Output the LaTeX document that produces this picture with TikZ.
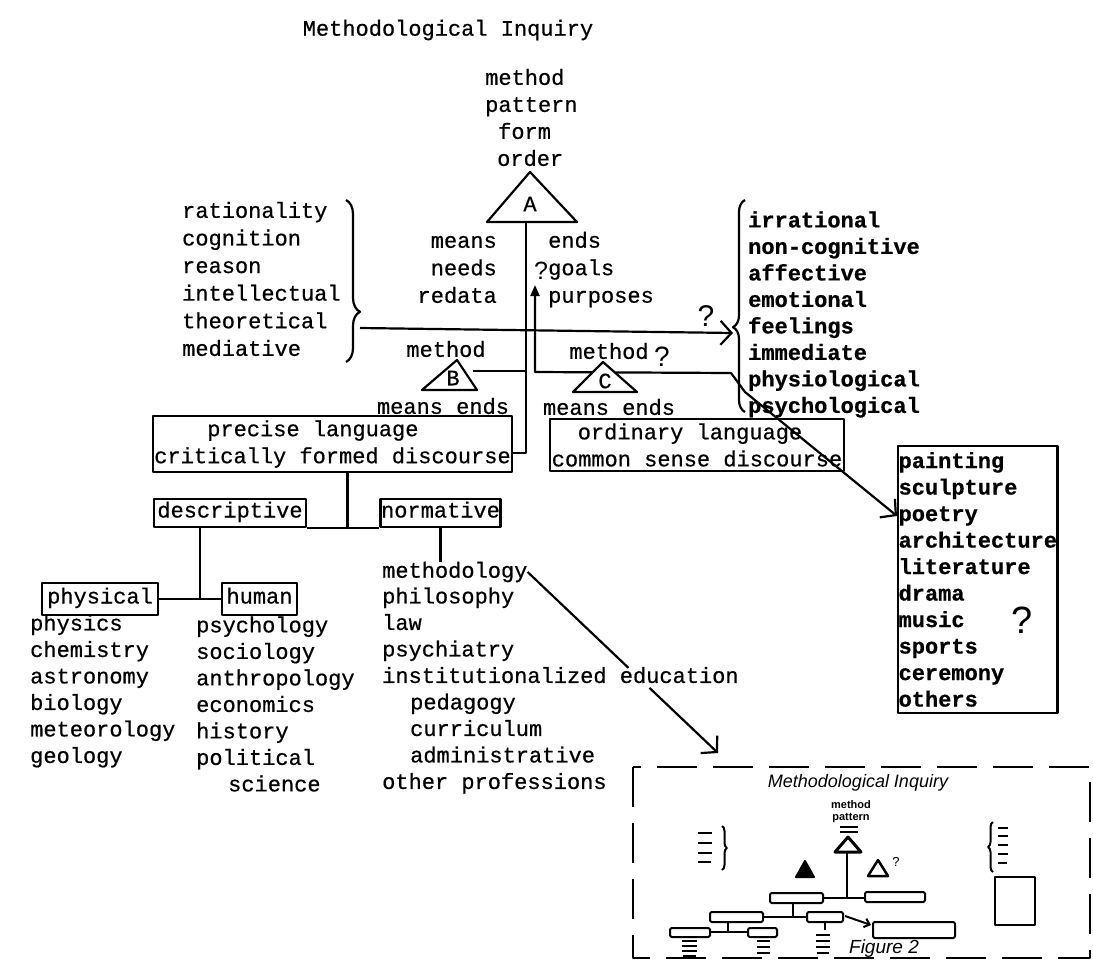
\documentclass[tikz,border=0pt]{standalone}
\usepackage{fontspec}
\setmonofont[FakeBold=0.6]{Liberation Mono}
\setsansfont{Liberation Sans}
\usetikzlibrary{calc, shapes, arrows.meta, decorations.pathreplacing}

\tikzset{
  term/.style={font=\fontsize{22}{26.5}\selectfont\ttfamily, inner sep=0pt, align=left},
  termbold/.style={term, font=\fontsize{22}{26.5}\selectfont\ttfamily\bfseries},
  wordbox/.style={term, draw, line width=2.2pt, inner xsep=1.5pt, inner ysep=4pt},
  tagbox/.style={wordbox, text height=14pt, text depth=5pt, inner xsep=3pt, inner ysep=4.5pt},
  link/.style={line width=2.2pt},
  barb/.style={-{Straight Barb[length=11pt,width=24pt]}},
  query/.style={font=\fontsize{28}{28}\selectfont\sffamily, inner sep=0pt},
  hand/.style={font=\fontsize{18}{18}\selectfont\sffamily\itshape, inner sep=0pt},
  sketch/.style={line width=2pt},
  tinybox/.style={sketch, rounded corners=1.5pt},
}

\begin{document}
\begin{tikzpicture}[x=1pt, y=-1pt, line join=round]
  \useasboundingbox (0,0) rectangle (1093,964);

  \node[term] (title) at (448,30) {Methodological Inquiry};

  % apex A
  \node[term, font=\fontsize{22}{27}\selectfont\ttfamily, anchor=west]
    (apexterms) at (485,117.5) {method\\pattern\\\hspace*{13pt}form\\\hspace*{12pt}order};
  \draw[link, fill=white] (530,172) -- (487,222) -- (577,222) -- cycle;
  \node[term] (labA) at (530,204) {A};
  \coordinate (Abase) at (526,222);

  \node[term, font=\fontsize{22}{27.5}\selectfont\ttfamily, align=right, anchor=east]
    (meanslist) at (497,269.5) {means\\needs\\redata};
  \node[term, font=\fontsize{22}{27.5}\selectfont\ttfamily, anchor=west]
    (endslist) at (548,269.5) {ends\\goals\\purposes};
  \node[query, font=\fontsize{25}{25}\selectfont\sffamily] (qgoals) at (541,271) {?};

  % the two sides
  \node[term, font=\fontsize{22}{27.6}\selectfont\ttfamily, anchor=west]
    (reasonlist) at (182,279) {rationality\\cognition\\reason\\intellectual\\theoretical\\mediative};
  \draw[link, decorate, decoration={brace, amplitude=14pt, aspect=0.69}]
    (346,200) -- (346,362);
  \node[termbold, anchor=west] (feellist) at (748,314.5)
    {irrational\\non-cognitive\\affective\\emotional\\feelings\\immediate\\physiological\\psychological};
  \draw[link, decorate, decoration={brace, amplitude=12pt, aspect=0.4}]
    (745,412) -- (745,200);
  \coordinate (reasontip) at (360,328);
  \coordinate (feeltip) at (733,333);
  \draw[link, barb] (reasontip) -- (feeltip);
  \node[query, font=\fontsize{30}{30}\selectfont\sffamily] (qfeel) at (706,316) {?};

  % language boxes
  \node[wordbox, font=\fontsize{22}{27}\selectfont\ttfamily] (precise) at (332.5,444)
    {\hspace*{53pt}precise language\\critically formed discourse};
  \node[wordbox, font=\fontsize{22}{27}\selectfont\ttfamily] (ordinary) at (697,445)
    {\hspace*{26pt}ordinary language\\common sense discourse};
  \draw[link] (Abase) |- ([yshift=-9pt]precise.east);

  % method B
  \node[term] (Bmethod) at (446,349) {method};
  \draw[link, fill=white] (457,360) -- (422,390) -- (477,390) -- cycle;
  \node[term] (labB) at (453,378) {B};
  \node[term] (Bmeans) at (443,406) {means ends};
  \coordinate (Bside) at (473,371);
  \coordinate (Bjoin) at (526,371);
  \draw[link] (Bside) -- (Bjoin);

  % arts box
  \node[termbold, draw, line width=2.2pt, inner xsep=0.5pt, inner ysep=6pt, anchor=north west]
    (art) at (897,445)
    {painting\\sculpture\\poetry\\architecture\\literature\\drama\\music\\sports\\ceremony\\others};
  \node[query, font=\fontsize{38}{38}\selectfont\sffamily] (qart) at (1022,620) {?};

  % method C and its line
  \coordinate (goaltip) at (535,285);
  \coordinate (Ccorner) at (535,372);
  \coordinate (Cbend) at (731,373);
  \coordinate (psyhook) at (745,392);
  \draw[link, {Triangle[length=11pt,width=9pt]}-{Straight Barb[length=11pt,width=24pt]}]
    (goaltip) -- (Ccorner) -- (Cbend) -- (psyhook) -- ([yshift=-71pt]art.north west);
  \node[term] (Cmethod) at (609,351) {method};
  \node[query] (qC) at (662,357) {?};
  \draw[link, fill=white] (603,362) -- (573,392) -- (637,392) -- cycle;
  \node[term] (labC) at (605,381) {C};
  \node[term] (Cmeans) at (609,407) {means ends};

  % tree below precise language
  \node[tagbox] (descr) at (230,513) {descriptive};
  \node[tagbox, inner xsep=0.5pt] (norm) at (440.5,513) {normative};
  \node[tagbox, inner xsep=5pt, inner ysep=6.5pt] (physical) at (100,599) {physical};
  \node[tagbox, inner xsep=4.5pt, inner ysep=6.5pt] (human) at (259.5,599) {human};
  \draw[link] ([xshift=15pt]precise.south) -- ([xshift=15pt]precise.south |- descr.south);
  \draw[link] (descr.south east) -- (norm.south west);
  \draw[link] ([xshift=-30pt]descr.south) -- ([xshift=-30pt]descr.south |- physical.east);
  \draw[link] (physical.east) -- (human.west);

  \node[term, anchor=west] (physlist) at (30,691)
    {physics\\chemistry\\astronomy\\biology\\meteorology\\geology};
  \node[term, anchor=west] (humlist) at (196,704)
    {psychology\\sociology\\anthropology\\economics\\history\\political\\\hspace*{32pt}science};
  \node[term, anchor=west] (methodology) at (382,572) {methodology};
  \node[term, anchor=west] (normlist) at (382,690.5)
    {philosophy\\law\\psychiatry\\institutionalized education\\\hspace*{28pt}pedagogy\\\hspace*{28pt}curriculum\\\hspace*{28pt}administrative\\other professions};
  \draw[link] (norm.south) -- (norm.south |- methodology.north);

  \coordinate (figtip) at (718,753);
  \draw[link] (methodology.east) -- ($(methodology.east)!0.53!(figtip)$);
  \draw[link, barb] ($(methodology.east)!0.64!(figtip)$) -- (figtip);

  % miniature of figure 2
  \draw[link, dash pattern=on 40pt off 16pt] (633,767) rectangle (1090,958);
  \node[hand] (minititle) at (858,783) {Methodological Inquiry};
  \node[hand, font=\fontsize{11}{12}\selectfont\sffamily\bfseries, align=center]
    (miniapex) at (851,812) {method\\pattern};
  \draw[sketch] (840,827) -- (858,827) (840,832) -- (858,832);
  \draw[sketch, line width=3pt, fill=white] (848,837) -- (835,852) -- (861,852) -- cycle;
  \draw[sketch] (847,852) -- (847,898);
  \draw[sketch, fill=black] (805,861) -- (796,877) -- (814,877) -- cycle;
  \draw[sketch, line width=2.5pt] (878,860) -- (868,876) -- (888,876) -- cycle;
  \node[hand, font=\fontsize{13}{13}\selectfont\sffamily] (miniq) at (896,862) {?};
  \draw[sketch] (698,833) -- (712,833) (698,843) -- (712,843)
    (698,853) -- (712,853) (698,862) -- (711,862);
  \draw[sketch, decorate, decoration={brace, amplitude=5pt}] (722,826) -- (722,870);
  \draw[sketch, decorate, decoration={brace, amplitude=5pt}] (993,872) -- (993,822);
  \draw[sketch] (998,828) -- (1008,828) (998,836) -- (1008,836) (998,845) -- (1008,845)
    (998,854) -- (1008,854) (998,863) -- (1007,863);
  \draw[sketch] (995,877) rectangle (1035,925);
  \draw[tinybox] (770,893) rectangle (823,903);
  \draw[tinybox] (865,892) rectangle (925,902);
  \draw[sketch] (823,898) -- (865,898);
  \draw[tinybox] (710,912) rectangle (763,922);
  \draw[tinybox] (807,912) rectangle (843,922);
  \draw[sketch] (793,903) -- (793,917) (763,917) -- (807,917);
  \draw[tinybox] (670,928) rectangle (710,937);
  \draw[tinybox] (748,928) rectangle (777,937);
  \draw[sketch] (728,922) -- (728,932) (710,932) -- (748,932);
  \draw[sketch] (825,922) -- (825,930);
  \draw[sketch] (682,941) -- (697,941) (682,946) -- (697,946) (682,951) -- (697,951) (683,956) -- (696,956);
  \draw[sketch] (757,941) -- (770,941) (757,947) -- (770,947) (757,953) -- (770,953);
  \draw[sketch] (816,935) -- (830,935) (816,941) -- (830,941) (816,947) -- (830,947) (817,953) -- (829,953);
  \draw[tinybox] (873,922) rectangle (955,938);
  \draw[sketch, -{Straight Barb[length=5pt,width=9pt]}] (845,916) -- (871,925);
  \node[hand, font=\fontsize{19}{19}\selectfont\sffamily\itshape] (minicap) at (884,949) {Figure 2};
\end{tikzpicture}
\end{document}
